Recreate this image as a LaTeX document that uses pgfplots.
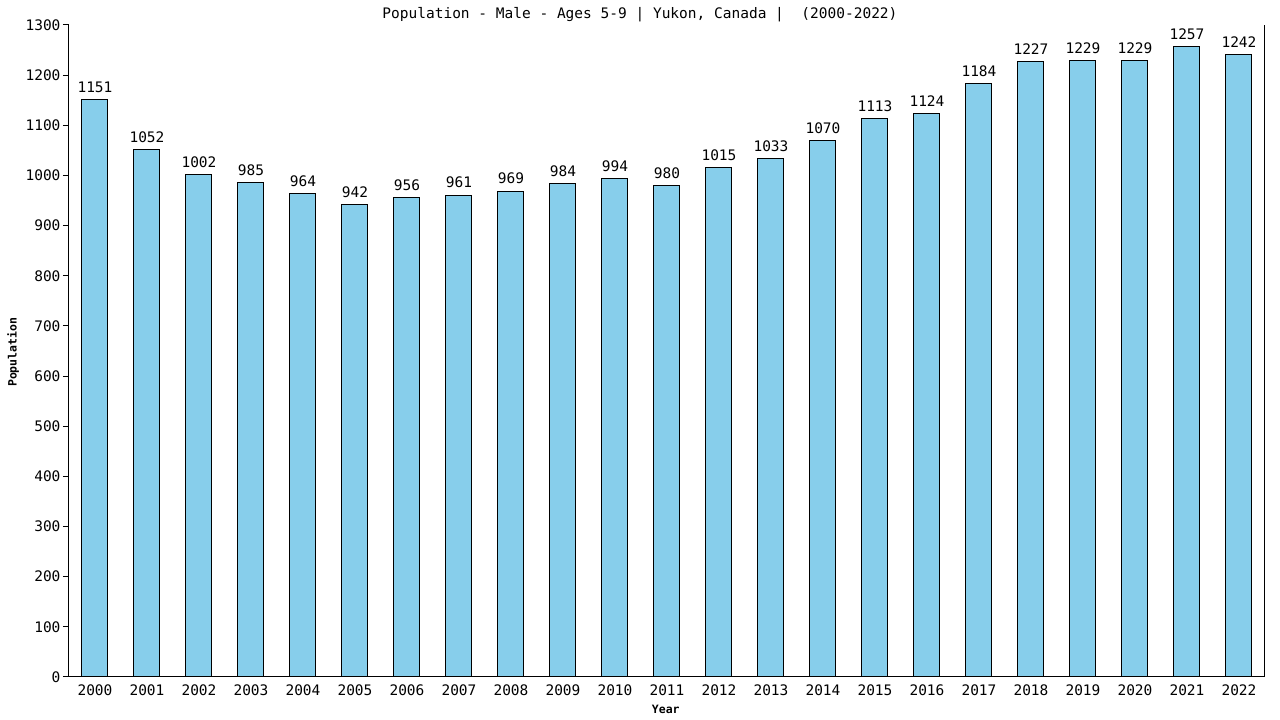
\documentclass[border=0pt]{standalone}
\usepackage{fontspec}
\setmainfont{DejaVu Sans Mono}
\setmonofont{DejaVu Sans Mono}
\usepackage{pgfplots}
\pgfplotsset{compat=1.18}
\definecolor{barblue}{HTML}{87CEEB}

\begin{document}
\begin{tikzpicture}
\begin{axis}[
    scale only axis,
    width=1196pt, height=652pt,
    xmin=-0.5, xmax=22.5,
    ymin=0, ymax=1300,
    ytick={0,100,...,1300},
    xtick={0,...,22},
    xticklabels={2000,2001,2002,2003,2004,2005,2006,2007,2008,2009,2010,2011,2012,2013,2014,2015,2016,2017,2018,2019,2020,2021,2022},
    axis x line*=bottom,
    axis y line*=left,
    ytick pos=left,
    tick align=outside,
    major tick length=6pt,
    xtick style={draw=none},
    ytick style={black, line width=1pt},
    axis line style={line width=1pt},
    tick label style={font=\fontsize{14.5}{16}\selectfont},
    yticklabel style={/pgf/number format/assume math mode=true, /pgf/number format/set thousands separator={}, xshift=1pt},
    xticklabel style={/pgf/number format/assume math mode=true, yshift=2pt},
    title={Population - Male - Ages 5-9 | Yukon, Canada |\ \ (2000-2022)},
    title style={font=\fontsize{14.5}{16}\selectfont, at={(axis description cs:0.4774,1)}, anchor=center, yshift=4pt},
    ylabel={Population},
    ylabel style={font=\bfseries\fontsize{11.5}{13}\selectfont, at={(axis description cs:-0.0468,0.498)}, anchor=center, rotate=0},
    xlabel={Year},
    xlabel style={font=\bfseries\fontsize{11.5}{13}\selectfont, at={(axis description cs:0.499,-0.049)}, anchor=center},
    nodes near coords,
    every node near coord/.append style={font=\fontsize{14.5}{16}\selectfont, /pgf/number format/assume math mode=true, /pgf/number format/set thousands separator={}, yshift=3pt},
    clip=false,
]
\addplot[ybar, bar width=26pt, fill=barblue, draw=black, line width=1pt] coordinates {
    (0,1151) (1,1052) (2,1002) (3,985) (4,964) (5,942) (6,956) (7,961)
    (8,969) (9,984) (10,994) (11,980) (12,1015) (13,1033) (14,1070)
    (15,1113) (16,1124) (17,1184) (18,1227) (19,1229) (20,1229)
    (21,1257) (22,1242)
};
\draw[line width=1pt] (axis cs:22.5,0) -- (axis cs:22.5,1300);
\end{axis}
\pgfresetboundingbox
\useasboundingbox (-69pt,-43pt) rectangle (1211pt,677pt);
\end{tikzpicture}
\end{document}
